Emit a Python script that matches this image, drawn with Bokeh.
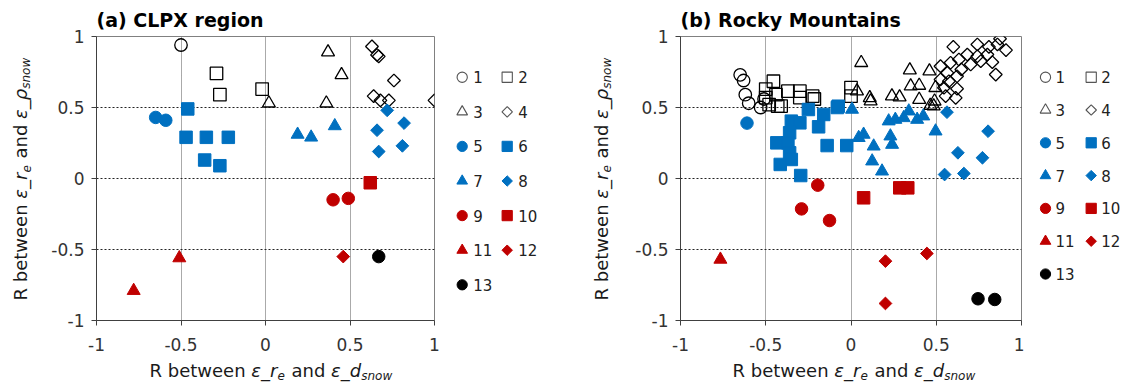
import numpy as np
from bokeh.plotting import figure
from bokeh.layouts import row, column
from bokeh.models import Range1d, FixedTicker, CustomJSTickFormatter
from bokeh.embed import file_html
from bokeh.resources import INLINE
from bokeh.core.properties import value

# ---------------- data ----------------
series_labels = ["1", "2", "3", "4", "5", "6", "7", "8", "9", "10", "11", "12", "13"]
series_shapes = ["circle", "square", "triangle", "diamond",
                 "circle", "square", "triangle", "diamond",
                 "circle", "square", "triangle", "diamond", "circle"]
BLUE, RED, BLACK = "#0070C0", "#C00000", "#000000"
series_colors = [None, None, None, None, BLUE, BLUE, BLUE, BLUE, RED, RED, RED, RED, BLACK]

tick_values = [-1, -0.5, 0, 0.5, 1]
grid_values = [-0.5, 0, 0.5]
panel_titles = ["(a) CLPX region", "(b) Rocky Mountains"]

# (a) CLPX region
clpx_x1 = [-0.50];                    clpx_y1 = [0.94]
clpx_x2 = [-0.29, -0.27, -0.02];      clpx_y2 = [0.74, 0.59, 0.63]
clpx_x3 = [0.02, 0.37, 0.45, 0.36];   clpx_y3 = [0.53, 0.89, 0.73, 0.53]
clpx_x4 = [0.63, 0.66, 0.67, 0.76, 0.64, 0.68, 0.73, 1.00]
clpx_y4 = [0.93, 0.87, 0.86, 0.69, 0.58, 0.55, 0.55, 0.55]
clpx_x5 = [-0.65, -0.59];             clpx_y5 = [0.43, 0.41]
clpx_x6 = [-0.46, -0.47, -0.35, -0.22, -0.36, -0.27]
clpx_y6 = [0.49, 0.29, 0.29, 0.29, 0.13, 0.09]
clpx_x7 = [0.19, 0.27, 0.41];         clpx_y7 = [0.31, 0.29, 0.37]
clpx_x8 = [0.72, 0.82, 0.66, 0.81, 0.67]
clpx_y8 = [0.48, 0.39, 0.34, 0.23, 0.19]
clpx_x9 = [0.40, 0.49];               clpx_y9 = [-0.15, -0.14]
clpx_x10 = [0.62];                    clpx_y10 = [-0.03]
clpx_x11 = [-0.51, -0.78];            clpx_y11 = [-0.56, -0.79]
clpx_x12 = [0.46];                    clpx_y12 = [-0.55]
clpx_x13 = [0.67];                    clpx_y13 = [-0.55]

# (b) Rocky Mountains
rocky_x1 = [-0.65, -0.63, -0.62, -0.60, -0.53, -0.51]
rocky_y1 = [0.73, 0.69, 0.59, 0.53, 0.50, 0.56]
rocky_x2 = [-0.455, -0.50, -0.50, -0.44, -0.43, -0.41, -0.37, -0.30, -0.30, -0.225, -0.215, 0.00, 0.00, -0.48]
rocky_y2 = [0.685, 0.63, 0.57, 0.59, 0.51, 0.51, 0.615, 0.615, 0.57, 0.58, 0.56, 0.64, 0.58, 0.52]
rocky_x3 = [0.06, 0.345, 0.46, 0.35, 0.40, 0.035, 0.11, 0.115, 0.24, 0.285, 0.40, 0.495, 0.465, 0.485, 0.49]
rocky_y3 = [0.815, 0.763, 0.756, 0.65, 0.655, 0.615, 0.568, 0.545, 0.58, 0.573, 0.556, 0.639, 0.514, 0.51, 0.544]
rocky_x4 = [0.600, 0.874, 0.909, 0.859, 0.809, 0.741, 0.682, 0.633, 0.584, 0.525, 0.741, 0.800, 0.849,
            0.702, 0.647, 0.565, 0.622, 0.574, 0.622, 0.555, 0.614, 0.545, 0.525, 0.761, 0.829]
rocky_y4 = [0.927, 0.984, 0.904, 0.944, 0.927, 0.944, 0.873, 0.838, 0.815, 0.791, 0.861, 0.873, 0.732,
            0.803, 0.768, 0.744, 0.720, 0.685, 0.632, 0.580, 0.568, 0.639, 0.697, 0.826, 0.819]
rocky_x5 = [-0.61];                   rocky_y5 = [0.39]
rocky_x6 = [-0.25, -0.16, -0.075, -0.35, -0.30, -0.19, -0.36, -0.435, -0.37, -0.14, -0.025, -0.36, -0.35, -0.415, -0.295, -0.08]
rocky_y6 = [0.486, 0.451, 0.509, 0.404, 0.392, 0.364, 0.322, 0.251, 0.251, 0.232, 0.232, 0.181, 0.134, 0.099, 0.021, 0.50]
rocky_x7 = [0.006, 0.221, 0.26, 0.309, 0.339, 0.388, 0.424, 0.496, 0.045, 0.074, 0.133, 0.231, 0.241, 0.124, 0.182]
rocky_y7 = [0.486, 0.404, 0.415, 0.427, 0.474, 0.415, 0.439, 0.333, 0.287, 0.31, 0.227, 0.298, 0.239, 0.122, 0.051]
rocky_x8 = [0.563, 0.804, 0.627, 0.771, 0.549, 0.662]
rocky_y8 = [0.467, 0.333, 0.181, 0.146, 0.028, 0.035]
rocky_x9 = [-0.195, -0.29, -0.126];   rocky_y9 = [-0.047, -0.214, -0.296]
rocky_x10 = [0.074, 0.286, 0.333];    rocky_y10 = [-0.136, -0.066, -0.066]
rocky_x11 = [-0.766];                 rocky_y11 = [-0.57]
rocky_x12 = [0.202, 0.445, 0.202];    rocky_y12 = [-0.582, -0.528, -0.88]
rocky_x13 = [0.745, 0.843];           rocky_y13 = [-0.847, -0.852]

clpx_series = [(clpx_x1, clpx_y1), (clpx_x2, clpx_y2), (clpx_x3, clpx_y3), (clpx_x4, clpx_y4),
               (clpx_x5, clpx_y5), (clpx_x6, clpx_y6), (clpx_x7, clpx_y7), (clpx_x8, clpx_y8),
               (clpx_x9, clpx_y9), (clpx_x10, clpx_y10), (clpx_x11, clpx_y11), (clpx_x12, clpx_y12),
               (clpx_x13, clpx_y13)]
rocky_series = [(rocky_x1, rocky_y1), (rocky_x2, rocky_y2), (rocky_x3, rocky_y3), (rocky_x4, rocky_y4),
                (rocky_x5, rocky_y5), (rocky_x6, rocky_y6), (rocky_x7, rocky_y7), (rocky_x8, rocky_y8),
                (rocky_x9, rocky_y9), (rocky_x10, rocky_y10), (rocky_x11, rocky_y11), (rocky_x12, rocky_y12),
                (rocky_x13, rocky_y13)]

# ---------------- layout (page pixels) ----------------
FONT = "DejaVu Sans"
W_TOTAL = 1125
ROW_H = 358         # plots incl. titles: page y 0..358
BOT_H = 29          # x-label strip: page y 358..387
FR_TOP, FR_BOT = 36, 320          # frame top/bottom (page y)
MB_TOP = FR_TOP
MB_BOT = ROW_H - FR_BOT
BASE_FIX = 0.4      # empirical shift of the alphabetic baseline (fraction of font size)

SIZES = {"circle": 12.5, "square": 12.5, "triangle": 13, "diamond": 9}

# approximate DejaVu Sans advance widths (em)
CW = {" ": 0.318, "R": 0.695, "b": 0.635, "e": 0.615, "t": 0.392, "w": 0.818, "n": 0.634,
      "a": 0.613, "d": 0.635, "r": 0.411, "s": 0.521, "o": 0.612, "_": 0.5, "ε": 0.54, "ρ": 0.635}
MAIN_PX, SUB_PX, SUB_DROP, SUB_GAP = 18, 12, 3, 1.0

xlabel_pieces = [("R between ", False, False), ("ε_r", True, False), ("e", True, True),
                 (" and ", False, False), ("ε_d", True, False), ("snow", True, True)]
ylabel_pieces = [("R between ", False, False), ("ε_r", True, False), ("e", True, True),
                 (" and ", False, False), ("ε_ρ", True, False), ("snow", True, True)]


def tw(s, size):
    return sum(CW.get(c, 0.6) for c in s) * size


def blank(width, height, xr, yr, **kw):
    f = figure(width=width, height=height, x_range=xr, y_range=yr, toolbar_location=None,
               output_backend="svg", **kw)
    f.axis.visible = False
    f.grid.visible = False
    f.outline_line_color = None
    f.background_fill_color = "white"
    f.border_fill_color = "white"
    return f


def draw_series(p, x, y, k, scale=1.0, open_color="black", open_width=1.3):
    shape = series_shapes[k]
    color = series_colors[k]
    size = SIZES[shape] * scale
    marker = "square" if shape == "diamond" else shape
    angle = np.pi / 4 if shape == "diamond" else 0.0
    if color is None:
        p.scatter(x, y, marker=marker, size=size, angle=angle, fill_color=None,
                  line_color=open_color, line_width=open_width)
    else:
        p.scatter(x, y, marker=marker, size=size, angle=angle, fill_color=color,
                  line_color=color, line_width=1)


def composite_text(f, pieces, x0, y0, vertical):
    cur = 0.0
    for text, italic, is_sub in pieces:
        size = SUB_PX if is_sub else MAIN_PX
        stripped = text.lstrip(" ")
        lead = tw(text[:len(text) - len(stripped)], size)   # SVG drops leading spaces
        stripped = stripped.rstrip(" ")
        down = (SUB_DROP if is_sub else 0) - BASE_FIX * size
        if vertical:
            x, y, ang = x0 + down, y0 + cur + lead, np.pi / 2
        else:
            x, y, ang = x0 + cur + lead, y0 + down, 0.0
        f.text(x=[x], y=[y], text=[stripped], angle=ang, text_font=value(FONT),
               text_font_size=value(f"{size}px"),
               text_font_style=value("italic" if italic else "normal"),
               text_align="left", text_baseline="alphabetic", text_color="#1a1a1a")
        cur += tw(text, size) + (SUB_GAP if is_sub else 0)


def make_panel(title, series, width, mbl, mbr):
    p = figure(title=title, width=width, height=ROW_H, x_range=Range1d(-1, 1), y_range=Range1d(-1, 1),
               toolbar_location=None, output_backend="svg",
               min_border_left=mbl, min_border_right=mbr, min_border_top=MB_TOP, min_border_bottom=MB_BOT)
    p.title.text_font = FONT
    p.title.text_font_style = "bold"
    p.title.text_font_size = "19px"
    p.title.text_color = "black"
    p.title.align = "left"
    p.title.offset = 0
    p.title.standoff = 11
    p.background_fill_color = "white"
    p.border_fill_color = "white"
    p.outline_line_color = "#808080"
    p.outline_line_width = 1
    for ax in (p.xaxis, p.yaxis):
        ax.ticker = FixedTicker(ticks=tick_values)
        ax.formatter = CustomJSTickFormatter(code="return tick.toString();")
        ax.major_label_text_font = FONT
        ax.major_label_text_font_size = "17px"
        ax.major_label_text_color = "#333333"
        ax.axis_line_color = "#404040"
        ax.axis_line_width = 1
        ax.major_tick_line_color = "#404040"
        ax.major_tick_out = 5
        ax.major_tick_in = 0
        ax.minor_tick_line_color = None
    p.xaxis.major_label_standoff = 12
    p.yaxis.major_label_standoff = 7
    p.xgrid.ticker = FixedTicker(ticks=grid_values)
    p.ygrid.ticker = FixedTicker(ticks=grid_values)
    p.xgrid.grid_line_color = "#555555"
    p.xgrid.grid_line_dash = "1 1"
    p.ygrid.grid_line_color = "#222222"
    p.ygrid.grid_line_dash = "2 2"
    for k, (x, y) in enumerate(series):
        draw_series(p, x, y, k)
    return p


def make_legend(x0, width, col_x, text_dx, row0, row_step):
    lg = blank(width, ROW_H, Range1d(x0, x0 + width), Range1d(FR_BOT, FR_TOP),
               min_border_left=0, min_border_right=0, min_border_top=MB_TOP, min_border_bottom=MB_BOT)
    tx, ty = [], []
    for k in range(len(series_labels)):
        mx = col_x[k % 2]
        my = row0 + row_step * (k // 2)
        draw_series(lg, [mx], [my], k, scale=0.82, open_color="#555555", open_width=1.1)
        tx.append(mx + text_dx)
        ty.append(my)
    lg.text(x=tx, y=ty, text=series_labels, text_font=value(FONT), text_font_size=value("15px"),
            text_baseline="middle", text_align="left", text_color="#222222")
    return lg


def make_ylabel(x0, width, base_x, start_y):
    f = blank(width, ROW_H, Range1d(x0, x0 + width), Range1d(-FR_BOT, -FR_TOP),
              min_border_left=0, min_border_right=0, min_border_top=MB_TOP, min_border_bottom=MB_BOT)
    composite_text(f, ylabel_pieces, base_x, -start_y, vertical=True)
    return f


# main row
ylab_a = make_ylabel(0, 34, 27.5, 300)
panel_a = make_panel(panel_titles[0], clpx_series, 406, 62, 6)
leg_a = make_legend(440, 135, [461.7, 506.7], 11, 76.7, 34.6)
ylab_b = make_ylabel(575, 40, 608, 300)
panel_b = make_panel(panel_titles[1], rocky_series, 409, 65, 3)
leg_b = make_legend(1024, 101, [1045, 1090.7], 10, 76.7, 32.8)

# bottom strip with x labels
y_bot0 = ROW_H
bottom = blank(W_TOTAL, BOT_H, Range1d(0, W_TOTAL), Range1d(y_bot0 + BOT_H, y_bot0), min_border=0)
composite_text(bottom, xlabel_pieces, 149, 377, vertical=False)
composite_text(bottom, xlabel_pieces, 732, 377, vertical=False)

layout = column(row(ylab_a, panel_a, leg_a, ylab_b, panel_b, leg_b), bottom)
open("out.html", "w").write(file_html(layout, INLINE))
